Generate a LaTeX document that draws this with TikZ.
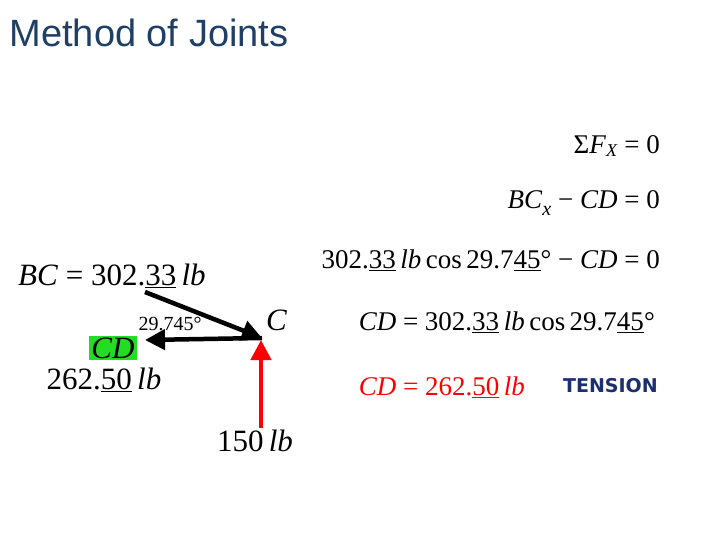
\documentclass[tikz,border=0pt]{standalone}
\usepackage{fontspec}
\setmainfont{Liberation Serif}
\newfontfamily\titlefont{Liberation Sans}
\newfontfamily\heavyfont{DejaVu Sans}
\usetikzlibrary{arrows.meta}
\definecolor{titleblue}{HTML}{1F3F66}
\definecolor{tgreen}{HTML}{22DD22}
\definecolor{navy}{HTML}{1C2F6E}
\newcommand{\ul}[1]{\underline{#1}}
\newcommand{\eqs}{\ =\ }
\newcommand{\mns}{\ −\ }
\begin{document}
\begin{tikzpicture}[x=1pt,y=-1pt,
  eq/.style={font=\fontsize{27}{29}\selectfont, anchor=east, inner sep=0pt},
  lab/.style={font=\fontsize{31}{33}\selectfont, inner sep=0pt},
  force/.style={line width=4.5pt,-{Triangle[length=20pt,width=20pt]}}]
\useasboundingbox (0,0) rectangle (720,540);
\node[anchor=west,text=titleblue,font=\titlefont\fontsize{38}{40}\selectfont] (title) at (6,33) {Method of Joints};
% equations
\node[eq] (e1) at (660,146) {Σ\textit{F}\raisebox{-3pt}{\fontsize{18}{20}\selectfont\textit{X}}\eqs 0};
\node[eq] (e2) at (660,203) {\textit{BC}\raisebox{-7pt}{\fontsize{20}{22}\selectfont\textit{x}}\mns\textit{CD}\eqs 0};
\node[eq] (e3) at (660,260) {302.\ul{33}\,\textit{lb}\,cos\,29.7\ul{45}°\mns\textit{CD}\eqs 0};
\node[eq] (e4) at (655,322) {\textit{CD}\eqs 302.\ul{33}\,\textit{lb}\,cos\,29.7\ul{45}°};
\node[eq,text=red] (e5) at (525,387) {\textit{CD}\eqs 262.\ul{50}\,\textit{lb}};
\node[anchor=east,inner sep=0pt,text=navy,font=\heavyfont\bfseries\fontsize{19}{21}\selectfont] (ten) at (658,386) {TENSION};
% diagram
\coordinate (C) at (262,338);
\coordinate (bcs) at (145,292);
\coordinate (cde) at (145,340);
\coordinate (fs) at (261,428);
\coordinate (fe) at (261,340);
\draw[force] (bcs) -- (C);
\draw[force] (C) -- (cde);
\draw[force,red] (fs) -- (fe);
\node[lab,anchor=west] (bc) at (18,276) {\textit{BC}\eqs 302.\ul{33}\,\textit{lb}};
\node[lab,anchor=west] (cl) at (266,320) {\textit{C}};
\node[font=\fontsize{20}{22}\selectfont,inner sep=0pt] (ang) at (170,324) {29.745°};
\node[lab,fill=tgreen,inner sep=2pt] (cd) at (113,348) {\textit{CD}};
\node[lab] (cdv) at (104,380) {262.\ul{50}\,\textit{lb}};
\node[lab] (f) at (255,441) {150\,\textit{lb}};
\end{tikzpicture}
\end{document}
